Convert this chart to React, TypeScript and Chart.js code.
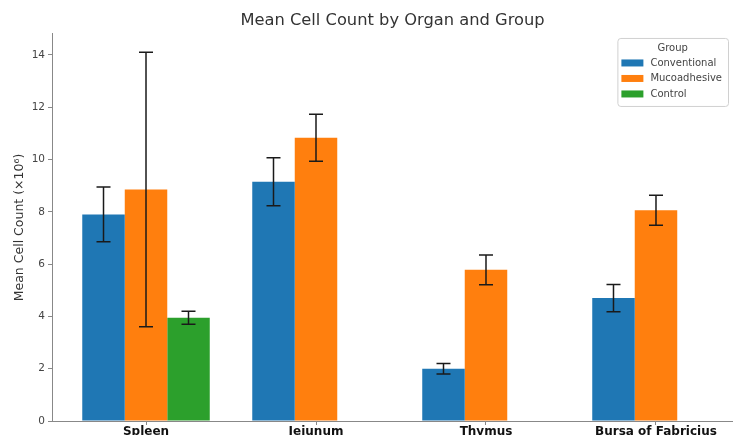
import React, { useEffect, useRef } from "react";
import { Chart, registerables } from "chart.js";

Chart.register(...registerables);

const titleText = "Mean Cell Count by Organ and Group";
const yAxisTitle = "Mean Cell Count (×10⁶)";
const legendTitle = "Group";
const organs = ["Spleen", "Jejunum", "Thymus", "Bursa of Fabricius"];
const groups = ["Conventional", "Mucoadhesive", "Control"];
const conventionalMean = [7.9, 9.15, 2.0, 4.7];
const conventionalErr = [1.05, 0.92, 0.2, 0.52];
const mucoadhesiveMean = [8.85, 10.83, 5.78, 8.06];
const mucoadhesiveErr = [5.25, 0.9, 0.57, 0.57];
const controlMean: (number | null)[] = [3.95, null, null, null];
const controlErr: (number | null)[] = [0.25, null, null, null];
const yTicks = [0, 2, 4, 6, 8, 10, 12, 14];
const colors = ["#1f77b4", "#ff7f0e", "#2ca02c"];

const means = [conventionalMean, mucoadhesiveMean, controlMean];
const errs = [conventionalErr, mucoadhesiveErr, controlErr];

const errorBarPlugin = {
  id: "errorBars",
  afterDatasetsDraw(chart: any) {
    const ctx = chart.ctx;
    const yScale = chart.scales.y;
    ctx.save();
    ctx.strokeStyle = "#1a1a1a";
    ctx.lineWidth = 1.5;
    chart.data.datasets.forEach((ds: any, di: number) => {
      const meta = chart.getDatasetMeta(di);
      meta.data.forEach((bar: any, j: number) => {
        const pt = ds.data[j];
        const e = errs[di][pt.x];
        if (e == null) return;
        const x = bar.x;
        const yTop = yScale.getPixelForValue(pt.y + e);
        const yBot = yScale.getPixelForValue(pt.y - e);
        const cap = 7;
        ctx.beginPath();
        ctx.moveTo(x, yTop);
        ctx.lineTo(x, yBot);
        ctx.moveTo(x - cap, yTop);
        ctx.lineTo(x + cap, yTop);
        ctx.moveTo(x - cap, yBot);
        ctx.lineTo(x + cap, yBot);
        ctx.stroke();
      });
    });
    ctx.restore();
  },
};

const legendPlugin = {
  id: "boxLegend",
  afterDraw(chart: any) {
    const ctx = chart.ctx;
    const area = chart.chartArea;
    ctx.save();
    ctx.font = "10px 'DejaVu Sans'";
    const labels = chart.data.datasets.map((d: any) => d.label);
    const maxW = Math.max(...labels.map((l: string) => ctx.measureText(l).width));
    const padL = 4;
    const swW = 22;
    const gap = 7;
    const padR = 6;
    const w = padL + swW + gap + maxW + padR;
    const h = 68;
    const right = area.right - 5;
    const left = right - w;
    const top = area.top + 4;
    ctx.fillStyle = "rgba(255,255,255,0.85)";
    ctx.strokeStyle = "#d0d0d0";
    ctx.lineWidth = 1;
    ctx.beginPath();
    if (ctx.roundRect) ctx.roundRect(left + 0.5, top + 0.5, w, h, 3);
    else ctx.rect(left + 0.5, top + 0.5, w, h);
    ctx.fill();
    ctx.stroke();
    ctx.fillStyle = "#444";
    ctx.textBaseline = "middle";
    ctx.textAlign = "center";
    ctx.fillText(legendTitle, left + w / 2, top + 10);
    ctx.textAlign = "left";
    chart.data.datasets.forEach((d: any, i: number) => {
      const cy = top + 25 + i * 15.5;
      ctx.fillStyle = d.backgroundColor;
      ctx.fillRect(left + padL, cy - 3.5, swW, 7);
      ctx.fillStyle = "#444";
      ctx.fillText(d.label, left + padL + swW + gap, cy);
    });
    ctx.restore();
  },
};

export default function App() {
  const ref = useRef<HTMLCanvasElement | null>(null);
  useEffect(() => {
    if (!ref.current) return;
    Chart.defaults.font.family = "'DejaVu Sans', sans-serif";
    const datasets = groups.map((g, gi) => ({
      label: g,
      data: organs
        .map((_, i) => ({ x: i, y: means[gi][i] as number }))
        .filter((p) => p.y != null),
      backgroundColor: colors[gi],
      borderWidth: 0,
      categoryPercentage: 0.75,
      barPercentage: 1.0,
    }));
    const chart = new Chart(ref.current, {
      type: "bar",
      data: { datasets },
      plugins: [errorBarPlugin, legendPlugin],
      options: {
        animation: false,
        responsive: false,
        layout: { padding: 0 },
        plugins: {
          legend: { display: false },
          tooltip: { enabled: false },
          title: {
            display: true,
            text: titleText,
            fullSize: false,
            color: "#333",
            font: { size: 16.3, weight: "normal" },
            padding: { top: 11, bottom: 3.4 },
          },
        },
        scales: {
          x: {
            type: "linear",
            offset: false,
            min: -0.553,
            max: 3.453,
            afterBuildTicks: (scale: any) => {
              scale.ticks = organs.map((_, i) => ({ value: i }));
            },
            afterFit: (scale: any) => {
              scale.height = 29;
            },
            ticks: {
              callback: (_v: any, i: number) => organs[i],
              autoSkip: false,
              maxRotation: 0,
              color: "#111",
              font: { size: 12, weight: "bold" },
              padding: 0,
            },
            grid: {
              display: true,
              offset: false,
              drawOnChartArea: false,
              drawTicks: true,
              tickLength: 4,
              color: "#888",
            },
            border: { display: true, color: "#888", width: 1 },
          },
          y: {
            min: 0,
            max: 14.8,
            afterBuildTicks: (scale: any) => {
              scale.ticks = yTicks.map((v) => ({ value: v }));
            },
            afterFit: (scale: any) => {
              scale.width = 52;
            },
            ticks: {
              color: "#444",
              font: { size: 10.5 },
              padding: 3,
            },
            grid: {
              display: true,
              drawOnChartArea: false,
              drawTicks: true,
              tickLength: 4,
              color: "#888",
            },
            border: { display: true, color: "#888", width: 1 },
            title: {
              display: true,
              text: yAxisTitle,
              color: "#333",
              font: { size: 12.5 },
              padding: { top: 12.5, bottom: 0 },
            },
          },
        },
      },
    } as any);
    return () => chart.destroy();
  }, []);
  return (
    <div
      style={{
        position: "fixed",
        left: 0,
        top: 0,
        width: 733,
        height: 435,
        overflow: "hidden",
        background: "#fff",
      }}
    >
      <canvas ref={ref} width={733} height={450} style={{ display: "block" }} />
    </div>
  );
}
